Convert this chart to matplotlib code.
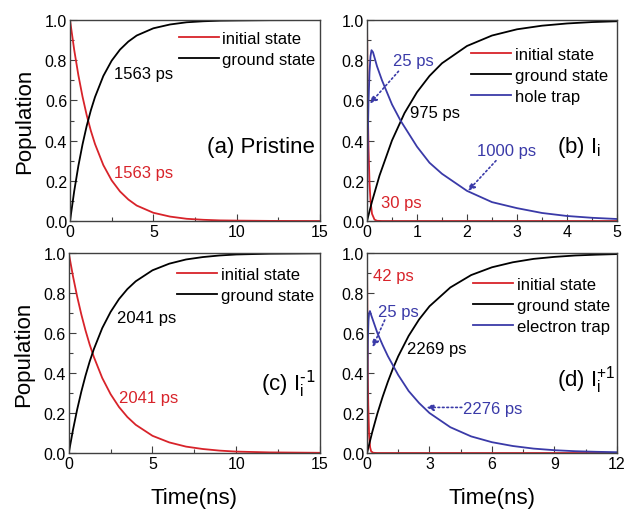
import numpy as np
import matplotlib
matplotlib.use('Agg')
import matplotlib.pyplot as plt
from matplotlib.ticker import MultipleLocator

plt.rcParams['font.family'] = ['Liberation Sans', 'DejaVu Sans']
plt.rcParams['mathtext.default'] = 'regular'

RED = '#d8232a'
BLUE = '#3a3aa8'
BLACK = '#000000'

# ---- panel (a) pristine (time in ns)
t_a = [0, 0.25, 0.5, 0.75, 1, 1.25, 1.5, 2, 2.5, 3, 3.5, 4, 5, 6, 7, 8, 9, 10, 12, 15]
init_a = [1, 0.852, 0.726, 0.619, 0.527, 0.449, 0.383, 0.278, 0.202, 0.147, 0.107,
          0.077, 0.041, 0.022, 0.011, 0.006, 0.003, 0.002, 0.0005, 0]
ground_a = [0, 0.148, 0.274, 0.381, 0.473, 0.551, 0.617, 0.722, 0.798, 0.853, 0.893,
            0.923, 0.959, 0.978, 0.989, 0.994, 0.997, 0.998, 0.9995, 1.0]

# ---- panel (b) I_i
t_b_init = [0, 0.01, 0.02, 0.03, 0.05, 0.07, 0.1, 0.15, 0.2, 0.3, 5]
init_b = [1, 0.72, 0.51, 0.37, 0.19, 0.10, 0.036, 0.007, 0.001, 0, 0]
t_b_ground = [0, 0.1, 0.25, 0.5, 0.75, 1, 1.25, 1.5, 2, 2.5, 3, 3.5, 4, 4.5, 5]
ground_b = [0, 0.097, 0.226, 0.401, 0.537, 0.641, 0.722, 0.785, 0.871, 0.923, 0.954,
            0.972, 0.983, 0.990, 0.994]
t_b_trap = [0, 0.01, 0.02, 0.03, 0.05, 0.07, 0.09, 0.12, 0.2, 0.3, 0.5, 0.67, 1, 1.25,
            1.5, 2, 2.5, 3, 3.5, 4, 4.5, 5]
trap_b = [0, 0.27, 0.46, 0.59, 0.74, 0.82, 0.85, 0.84, 0.77, 0.70, 0.58, 0.50, 0.37,
          0.29, 0.235, 0.15, 0.094, 0.064, 0.04, 0.025, 0.016, 0.01]

# ---- panel (c) I_i^-1
t_c = [0, 0.25, 0.5, 0.75, 1, 1.25, 1.5, 2, 2.5, 3, 3.5, 4, 5, 6, 7, 8, 9, 10, 12, 15]
init_c = [1, 0.885, 0.783, 0.693, 0.613, 0.542, 0.480, 0.375, 0.294, 0.230, 0.180,
          0.141, 0.086, 0.053, 0.032, 0.020, 0.012, 0.007, 0.003, 0.001]
ground_c = [0, 0.115, 0.217, 0.307, 0.387, 0.458, 0.520, 0.625, 0.706, 0.770, 0.820,
            0.859, 0.914, 0.947, 0.968, 0.980, 0.988, 0.993, 0.997, 0.999]

# ---- panel (d) I_i^+1
t_d_init = [0, 0.02, 0.04, 0.06, 0.1, 0.15, 0.2, 0.3, 0.5, 12]
init_d = [1, 0.62, 0.39, 0.24, 0.09, 0.028, 0.008, 0.001, 0, 0]
t_d_ground = [0, 0.25, 0.5, 0.75, 1, 1.25, 1.5, 2, 2.5, 3, 4, 5, 6, 7, 8, 9, 10, 11, 12]
ground_d = [0, 0.104, 0.198, 0.281, 0.356, 0.424, 0.484, 0.586, 0.668, 0.734, 0.828,
            0.890, 0.929, 0.954, 0.971, 0.981, 0.988, 0.992, 0.995]
t_d_trap = [0, 0.01, 0.02, 0.04, 0.07, 0.1, 0.14, 0.2, 0.5, 0.75, 1, 1.5, 2, 2.5, 3,
            4, 5, 6, 7, 8, 9, 10, 11, 12]
trap_d = [0, 0.25, 0.40, 0.56, 0.66, 0.70, 0.71, 0.69, 0.60, 0.54, 0.485, 0.39, 0.31,
          0.25, 0.20, 0.129, 0.083, 0.054, 0.035, 0.022, 0.014, 0.009, 0.006, 0.004]


def style_axes(ax, xmax, xmajor, xminor):
    ax.set_xlim(0, xmax)
    ax.set_ylim(0, 1.0)
    ax.xaxis.set_major_locator(MultipleLocator(xmajor))
    ax.xaxis.set_minor_locator(MultipleLocator(xminor))
    ax.yaxis.set_major_locator(MultipleLocator(0.2))
    ax.yaxis.set_minor_locator(MultipleLocator(0.1))
    ax.yaxis.set_major_formatter(matplotlib.ticker.FormatStrFormatter('%.1f'))
    ax.tick_params(which='both', direction='in', top=False, right=False,
                   labelsize=11.5, color='#404040', pad=2)
    ax.tick_params(which='major', length=5, width=0.8)
    ax.tick_params(which='minor', length=3, width=0.8)
    for s in ax.spines.values():
        s.set_color('#404040')
        s.set_linewidth(1.0)


def add_legend(ax, x, y):
    ax.legend(loc='upper right', bbox_to_anchor=(x, y), frameon=False, fontsize=12,
              handlelength=2.4, handletextpad=0.2, labelspacing=0.35,
              borderaxespad=0, borderpad=0)


fig = plt.figure(figsize=(6.28, 5.10), dpi=100)
ax_a = fig.add_axes([0.1115, 0.5647, 0.398, 0.394])
ax_b = fig.add_axes([0.5844, 0.5647, 0.398, 0.394])
ax_c = fig.add_axes([0.1095, 0.1098, 0.40, 0.392])
ax_d = fig.add_axes([0.5844, 0.1098, 0.398, 0.392])

lw = 1.3

# (a)
ax_a.plot(t_a, init_a, color=RED, lw=lw, label='initial state')
ax_a.plot(t_a, ground_a, color=BLACK, lw=lw, label='ground state')
style_axes(ax_a, 15, 5, 2.5)
add_legend(ax_a, 0.98, 0.945)
ax_a.text(2.65, 0.735, '1563 ps', color=BLACK, fontsize=12, va='center')
ax_a.text(2.65, 0.24, '1563 ps', color=RED, fontsize=12, va='center')
ax_a.text(8.2, 0.37, '(a) Pristine', fontsize=16, va='center')
ax_a.set_ylabel('Population', fontsize=16, labelpad=7)

# (b)
ax_b.plot(t_b_init, init_b, color=RED, lw=lw, label='initial state')
ax_b.plot(t_b_ground, ground_b, color=BLACK, lw=lw, label='ground state')
ax_b.plot(t_b_trap, trap_b, color=BLUE, lw=lw, label='hole trap')
style_axes(ax_b, 5, 1, 0.5)
add_legend(ax_b, 0.964, 0.865)
ax_b.text(0.53, 0.80, '25 ps', color=BLUE, fontsize=12, va='center')
ax_b.text(0.87, 0.54, '975 ps', color=BLACK, fontsize=12, va='center')
ax_b.text(2.2, 0.35, '1000 ps', color=BLUE, fontsize=12, va='center')
ax_b.text(0.27, 0.09, '30 ps', color=RED, fontsize=12, va='center')
ax_b.text(3.8, 0.37, r'(b) I$_{i}$', fontsize=16, va='center')
ax_b.annotate('', xy=(0.06, 0.585), xytext=(0.63, 0.745),
              arrowprops=dict(arrowstyle='-|>', ls=':', lw=1.2, color=BLUE,
                              mutation_scale=10, shrinkA=0, shrinkB=0))
ax_b.annotate('', xy=(2.02, 0.15), xytext=(2.58, 0.30),
              arrowprops=dict(arrowstyle='-|>', ls=':', lw=1.2, color=BLUE,
                              mutation_scale=10, shrinkA=0, shrinkB=0))

# (c)
ax_c.plot(t_c, init_c, color=RED, lw=lw, label='initial state')
ax_c.plot(t_c, ground_c, color=BLACK, lw=lw, label='ground state')
style_axes(ax_c, 15, 5, 2.5)
add_legend(ax_c, 0.975, 0.93)
ax_c.text(2.9, 0.68, '2041 ps', color=BLACK, fontsize=12, va='center')
ax_c.text(3.0, 0.28, '2041 ps', color=RED, fontsize=12, va='center')
ax_c.text(11.5, 0.35, r'(c) I$_{i}^{\text{-1}}$', fontsize=16, va='center')
ax_c.set_ylabel('Population', fontsize=16, labelpad=7)
ax_c.set_xlabel('Time(ns)', fontsize=16, labelpad=12)

# (d)
ax_d.plot(t_d_init, init_d, color=RED, lw=lw, label='initial state')
ax_d.plot(t_d_ground, ground_d, color=BLACK, lw=lw, label='ground state')
ax_d.plot(t_d_trap, trap_d, color=BLUE, lw=lw, label='electron trap')
style_axes(ax_d, 12, 3, 1.5)
add_legend(ax_d, 0.972, 0.88)
ax_d.text(0.29, 0.89, '42 ps', color=RED, fontsize=12, va='center')
ax_d.text(0.53, 0.71, '25 ps', color=BLUE, fontsize=12, va='center')
ax_d.text(1.9, 0.525, '2269 ps', color=BLACK, fontsize=12, va='center')
ax_d.text(4.6, 0.225, '2276 ps', color=BLUE, fontsize=12, va='center')
ax_d.text(9.1, 0.37, r'(d) I$_{i}^{+1}$', fontsize=16, va='center')
ax_d.annotate('', xy=(0.27, 0.53), xytext=(0.85, 0.665),
              arrowprops=dict(arrowstyle='-|>', ls=':', lw=1.2, color=BLUE,
                              mutation_scale=10, shrinkA=0, shrinkB=0))
ax_d.annotate('', xy=(2.85, 0.228), xytext=(4.55, 0.228),
              arrowprops=dict(arrowstyle='-|>', ls=':', lw=1.2, color=BLUE,
                              mutation_scale=10, shrinkA=0, shrinkB=0))
ax_d.set_xlabel('Time(ns)', fontsize=16, labelpad=12)

fig.savefig('out.png', dpi=100)
